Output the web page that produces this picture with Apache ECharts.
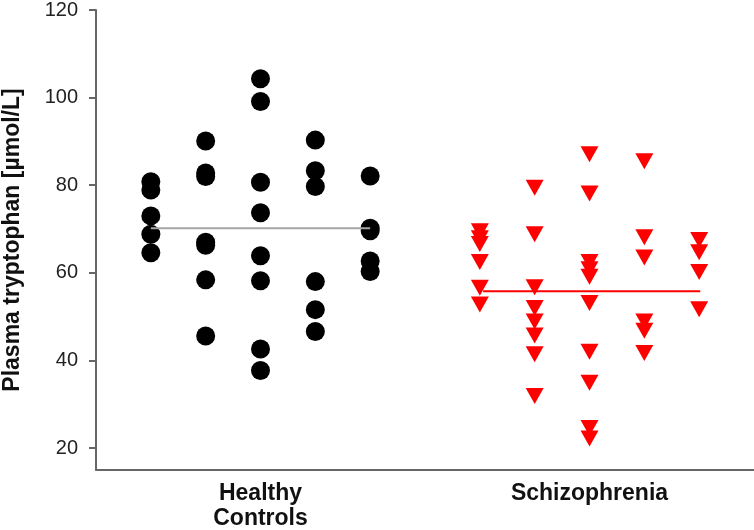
<!DOCTYPE html>
<html>
<head>
<meta charset="utf-8">
<script src="https://cdn.jsdelivr.net/npm/echarts@6/dist/echarts.min.js"></script>
<style>html,body{margin:0;padding:0;background:#fff}#c{width:754px;height:530px}</style>
</head>
<body>
<div id="c"></div>
<script>
// Categories and their column positions on the x scale
const categories = ['Healthy\nControls', 'Schizophrenia'];
const categoryCenters = [3, 9];
const hcColumnX = [1, 2, 3, 4, 5];
const szColumnX = [7, 8, 9, 10, 11];

// Healthy controls, values per column (µmol/L)
const hcCol1 = [80.8, 78.9, 73.0, 68.8, 64.6];
const hcCol2 = [90.1, 82.8, 82.0, 67.0, 66.3, 58.4, 45.6];
const hcCol3 = [104.3, 99.1, 80.7, 73.7, 63.9, 58.2, 42.6, 37.7];
const hcCol4 = [90.3, 83.3, 79.7, 58.0, 51.6, 46.6];
const hcCol5 = [82.1, 70.2, 69.6, 62.7, 60.3];

// Schizophrenia, values per column (µmol/L)
const szCol1 = [69.5, 67.9, 66.6, 62.5, 56.6, 52.8];
const szCol2 = [79.4, 68.8, 56.7, 52.0, 48.9, 45.7, 41.4, 31.9];
const szCol3 = [87.1, 78.1, 62.5, 60.8, 59.1, 53.1, 42.0, 34.9, 24.6, 22.2];
const szCol4 = [85.5, 68.1, 63.5, 48.9, 46.8, 41.7];
const szCol5 = [67.5, 64.7, 60.2, 51.7];

// Group means (horizontal lines)
const hcMean = 70.2;
const szMean = 55.8;
const hcLineX = [1, 5];
const szLineX = [7.06, 11.02];

// Y ticks
const yTicks = [20, 40, 60, 80, 100, 120];

function toPoints(cols, xs) {
  const out = [];
  cols.forEach((col, i) => col.forEach(v => out.push([xs[i], v])));
  return out;
}
const hcPoints = toPoints([hcCol1, hcCol2, hcCol3, hcCol4, hcCol5], hcColumnX);
const szPoints = toPoints([szCol1, szCol2, szCol3, szCol4, szCol5], szColumnX);

const chart = echarts.init(document.getElementById('c'));
const font = '"Liberation Sans", Arial, Helvetica, sans-serif';
chart.setOption({
  animation: false,
  backgroundColor: '#fff',
  grid: { left: 96, right: 0, top: 10, bottom: 60, containLabel: false, outerBoundsMode: 'none' },
  xAxis: {
    type: 'value', min: 0, max: 12,
    splitLine: { show: false },
    axisLine: { lineStyle: { color: '#666', width: 2 } },
    axisTick: { show: false },
    axisLabel: {
      customValues: categoryCenters,
      margin: 11,
      fontFamily: font, fontWeight: 'bold', fontSize: 23, color: '#111',
      lineHeight: 25,
      formatter: v => { const i = categoryCenters.indexOf(v); return i >= 0 ? categories[i] : ''; }
    }
  },
  yAxis: {
    type: 'value', min: 15, max: 120,
    splitLine: { show: false },
    axisLine: { show: true, lineStyle: { color: '#666', width: 2 } },
    axisTick: { show: true, customValues: yTicks, length: 7, lineStyle: { color: '#666', width: 2 } },
    axisLabel: { customValues: yTicks, margin: 18, fontFamily: font, fontSize: 20, color: '#222' },
    name: 'Plasma tryptophan [µmol/L]',
    nameLocation: 'middle',
    nameGap: 72,
    nameTextStyle: { fontFamily: font, fontWeight: 'bold', fontSize: 23, color: '#111' }
  },
  series: [
    {
      type: 'line', data: [[hcLineX[0], hcMean], [hcLineX[1], hcMean]],
      symbol: 'none', lineStyle: { color: '#a6a6a6', width: 2 }, silent: true
    },
    {
      type: 'line', data: [[szLineX[0], szMean], [szLineX[1], szMean]],
      symbol: 'none', lineStyle: { color: '#ff0000', width: 2 }, silent: true
    },
    {
      type: 'scatter', data: hcPoints, symbol: 'circle', symbolSize: 19,
      itemStyle: { color: '#000', opacity: 1 }
    },
    {
      type: 'scatter', data: szPoints, symbol: 'triangle', symbolRotate: 180, symbolSize: [18, 16],
      itemStyle: { color: '#ff0000', opacity: 1 }
    }
  ]
});
</script>
</body>
</html>
